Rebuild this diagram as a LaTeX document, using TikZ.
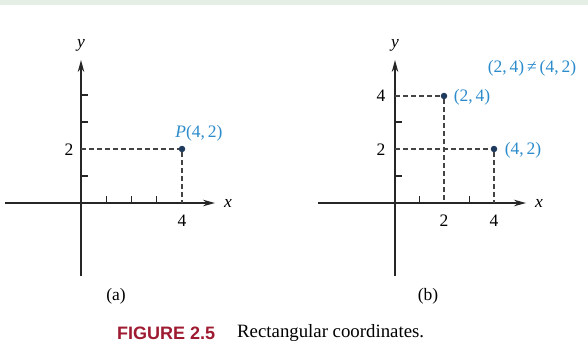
\documentclass[tikz,border=0pt]{standalone}
\usepackage{fontspec}
\setmainfont{Liberation Serif}
\newfontfamily\figfont{Liberation Sans}
\usetikzlibrary{arrows.meta,calc}
\definecolor{bandcol}{HTML}{E4EEE4}
\definecolor{axiscol}{HTML}{262626}
\definecolor{dashcol}{HTML}{444444}
\definecolor{ptcol}{HTML}{1E3A5C}
\definecolor{lblblue}{HTML}{2B8BCB}
\definecolor{figred}{HTML}{9E1B32}
\tikzset{
  axis/.style={draw=axiscol,line width=1.8pt,-{Stealth[length=12pt,width=6.5pt]}},
  tickmark/.style={draw=axiscol,line width=1.2pt},
  dashline/.style={draw=dashcol,line width=1.2pt,dash pattern=on 5pt off 3pt},
  pt/.style={circle,fill=ptcol,inner sep=0pt,minimum size=6.5pt},
  txt/.style={inner sep=0pt,font=\fontsize{17.5}{20}\selectfont},
  bluetxt/.style={txt,text=lblblue},
}
\begin{document}
\begin{tikzpicture}[x=1pt,y=-1pt]
\useasboundingbox (0,0) rectangle (588,362);
\fill[bandcol] (0,0) rectangle (588,5);

% ---------- panel (a)
\coordinate (aO) at (81,203);
\coordinate (aXL) at (5,203);
\coordinate (aXR) at (215,203);
\coordinate (aYB) at (81,276);
\coordinate (aYT) at (81,60);
\draw[axis] (aXL) -- (aXR);
\draw[axis] (aYB) -- (aYT);
\foreach \i in {1,2,3} \draw[tickmark] ($(aO)+(\i*25.25,0)$) -- ++(0,-7);
\foreach \j in {1,3,4} \draw[tickmark] ($(aO)+(0,-\j*27)$) -- ++(7,0);
\node[pt] (P) at (182,149) {};
\draw[dashline] (aO |- P) -- (P);
\draw[dashline] (P) -- (P |- aO);
\node[bluetxt] (Plab) at (199,133) {\textit{P}(4,\,2)};
\node[txt] (a2) at (69,150) {2};
\node[txt] (a4) at (182,221) {4};
\node[txt] (ax) at (228,203) {\textit{x}};
\node[txt] (ay) at (81,45) {\textit{y}};
\node[txt] (acap) at (116,296) {(a)};

% ---------- panel (b)
\coordinate (bO) at (395,203);
\coordinate (bXL) at (318,203);
\coordinate (bXR) at (526,203);
\coordinate (bYB) at (395,276);
\coordinate (bYT) at (395,60);
\draw[axis] (bXL) -- (bXR);
\draw[axis] (bYB) -- (bYT);
\foreach \i in {1,3} \draw[tickmark] ($(bO)+(\i*24.75,0)$) -- ++(0,-7);
\foreach \j in {1,3} \draw[tickmark] ($(bO)+(0,-\j*27)$) -- ++(7,0);
\node[pt] (Q) at (444,96) {};
\node[pt] (R) at (494,149) {};
\draw[dashline] (bO |- Q) -- (Q);
\draw[dashline] (Q) -- (Q |- bO);
\draw[dashline] (bO |- R) -- (R);
\draw[dashline] (R) -- (R |- bO);
\node[bluetxt] (Qlab) at (472,97) {(2,\,4)};
\node[bluetxt] (Rlab) at (523,150) {(4,\,2)};
\node[bluetxt] (neq) at (532,68) {(2,\,4)\,≠\,(4,\,2)};
\node[txt] (b4y) at (381,96) {4};
\node[txt] (b2y) at (381,150) {2};
\node[txt] (b2x) at (444,221) {2};
\node[txt] (b4x) at (494,221) {4};
\node[txt] (bx) at (539,203) {\textit{x}};
\node[txt] (by) at (395,45) {\textit{y}};
\node[txt] (bcap) at (428,296) {(b)};

% ---------- caption
\node[inner sep=0pt,anchor=west,text=figred,font=\figfont\bfseries\fontsize{18}{20}\selectfont] (fig) at (117,333) {FIGURE 2.5};
\node[inner sep=0pt,anchor=west,font=\fontsize{18.8}{22}\selectfont] (cap) at (237,333) {Rectangular coordinates.};
\end{tikzpicture}
\end{document}
